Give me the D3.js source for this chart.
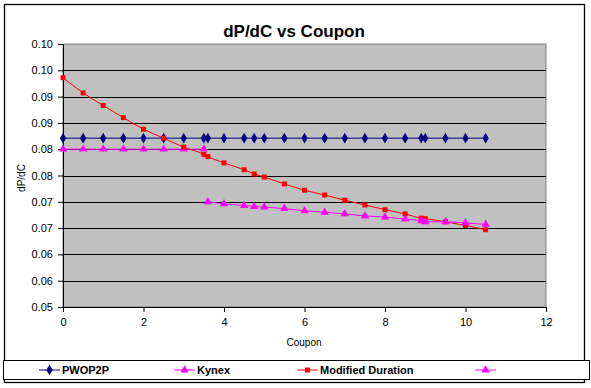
<!DOCTYPE html>
<html>
<head>
<meta charset="utf-8">
<script src="https://cdn.jsdelivr.net/npm/d3@7"></script>
<style>
  body { margin: 0; background: #fff; }
  svg { display: block; font-family: Arial, "Liberation Sans", sans-serif; }
</style>
</head>
<body>
<div id="chart"></div>
<script>
// Data
const coupons = [0, 0.5, 1, 1.5, 2, 2.5, 3, 3.5, 3.6, 4, 4.5, 4.75, 5, 5.5, 6, 6.5, 7, 7.5, 8, 8.5, 8.9, 9, 9.5, 10, 10.5];
const pwop2p = [0.0821, 0.0821, 0.0821, 0.0821, 0.0821, 0.0821, 0.0821, 0.0821, 0.0821, 0.0821, 0.0821, 0.0821, 0.0821,
    0.0821, 0.0821, 0.0821, 0.0821, 0.0821, 0.0821, 0.0821, 0.0821, 0.0821, 0.0821, 0.0821, 0.0821];
const modDuration = [0.0936, 0.0907, 0.0883, 0.0860, 0.0838, 0.0821, 0.0804, 0.0790, 0.0786, 0.0774, 0.0761, 0.0753, 0.0747,
    0.0734, 0.0722, 0.0713, 0.0703, 0.0694, 0.0685, 0.0677, 0.0669, 0.0668, 0.0662, 0.0655, 0.0647];

const kynexCoupons = [0, 0.5, 1, 1.5, 2, 2.5, 3, 3.5];
const kynex = [0.0800, 0.0800, 0.0800, 0.0800, 0.0800, 0.0800, 0.0800, 0.0800];

const series4Coupons = [3.6, 4, 4.5, 4.75, 5, 5.5, 6, 6.5, 7, 7.5, 8, 8.5, 8.9, 9, 9.5, 10, 10.5];
const series4 = [0.0700, 0.0696, 0.0693, 0.0691, 0.0690, 0.0687, 0.0683, 0.0680, 0.0677, 0.0673, 0.0671, 0.0667,
    0.0664, 0.0662, 0.0662, 0.0660, 0.0657];

const yTicks = [0.05, 0.055, 0.06, 0.065, 0.07, 0.075, 0.08, 0.085, 0.09, 0.095, 0.10];
const yTickLabels = ["0.05", "0.06", "0.06", "0.07", "0.07", "0.08", "0.08", "0.09", "0.09", "0.10", "0.10"];
const xTicks = [0, 2, 4, 6, 8, 10, 12];

const seriesNames = ["PWOP2P", "Kynex", "Modified Duration", ""];

// Dimensions
const W = 591, H = 388;
const plot = {left: 63, right: 546, top: 44, bottom: 307};

const xScale = d3.scaleLinear().domain([0, 12]).range([plot.left, plot.right]);
const yScale = d3.scaleLinear().domain([0.05, 0.10]).range([plot.bottom, plot.top]);

const svg = d3.select("#chart").append("svg")
    .attr("width", W)
    .attr("height", H);

// Chart outline
svg.append("rect")
    .attr("x", 4.5).attr("y", 4.5)
    .attr("width", 580).attr("height", 378)
    .attr("fill", "#fff")
    .attr("stroke", "#000")
    .attr("stroke-width", 1.3);

// Plot area
svg.append("rect")
    .attr("x", plot.left).attr("y", plot.top)
    .attr("width", plot.right - plot.left).attr("height", plot.bottom - plot.top)
    .attr("fill", "#c0c0c0")
    .attr("stroke", "#808080")
    .attr("stroke-width", 1);

// Gridlines
svg.append("g")
    .selectAll("line")
    .data(yTicks.slice(1, -1))
    .enter().append("line")
    .attr("x1", plot.left).attr("x2", plot.right)
    .attr("y1", d => Math.round(yScale(d)) + 0.5)
    .attr("y2", d => Math.round(yScale(d)) + 0.5)
    .attr("stroke", "#000")
    .attr("stroke-width", 1);

// Axes
const yAxis = svg.append("g")
    .attr("transform", "translate(" + plot.left + ",0)")
    .call(d3.axisLeft(yScale)
        .tickValues(yTicks)
        .tickFormat((d, i) => yTickLabels[i])
        .tickSize(5)
        .tickSizeOuter(0)
        .tickPadding(5));

const xAxis = svg.append("g")
    .attr("transform", "translate(0," + plot.bottom + ")")
    .call(d3.axisBottom(xScale)
        .tickValues(xTicks)
        .tickSize(5)
        .tickSizeOuter(0)
        .tickPadding(6));

[yAxis, xAxis].forEach(function (g) {
    g.selectAll("path, line").attr("stroke", "#000").attr("stroke-width", 1);
    g.selectAll("text").attr("fill", "#000").style("font-size", "11px")
        .style("font-family", "Arial, 'Liberation Sans', sans-serif");
});

// Titles
svg.append("text")
    .attr("x", 294).attr("y", 37)
    .attr("text-anchor", "middle")
    .style("font-size", "17px")
    .style("font-weight", "bold")
    .text("dP/dC vs Coupon");

svg.append("text")
    .attr("x", 304).attr("y", 346)
    .attr("text-anchor", "middle")
    .style("font-size", "10px")
    .text("Coupon");

svg.append("text")
    .attr("transform", "translate(25,178) rotate(-90)")
    .attr("text-anchor", "middle")
    .style("font-size", "10px")
    .text("dP/dC");

// Series
const series = [
    {name: seriesNames[0], xs: coupons, ys: pwop2p, color: "#000080", symbol: d3.symbolDiamond, size: 34, curve: d3.curveLinear},
    {name: seriesNames[1], xs: kynexCoupons, ys: kynex, color: "#ff00ff", symbol: d3.symbolTriangle, size: 30, curve: d3.curveLinear},
    {name: seriesNames[2], xs: coupons, ys: modDuration, color: "#ff0000", symbol: d3.symbolSquare, size: 25, curve: d3.curveMonotoneX},
    {name: seriesNames[3], xs: series4Coupons, ys: series4, color: "#ff00ff", symbol: d3.symbolTriangle, size: 30, curve: d3.curveMonotoneX}
];

const line = d3.line();

series.forEach(function (s) {
    const pts = s.xs.map((x, i) => [xScale(x), yScale(s.ys[i])]);
    svg.append("path")
        .attr("d", line.curve(s.curve)(pts))
        .attr("fill", "none")
        .attr("stroke", s.color)
        .attr("stroke-width", 1);
    svg.append("g")
        .selectAll("path")
        .data(pts)
        .enter().append("path")
        .attr("transform", d => "translate(" + d[0] + "," + d[1] + ")")
        .attr("d", d3.symbol().type(s.symbol).size(s.size))
        .attr("fill", s.color);
});

// Legend
svg.append("rect")
    .attr("x", 3.5).attr("y", 360.5)
    .attr("width", 586).attr("height", 19)
    .attr("fill", "#fff")
    .attr("stroke", "#000")
    .attr("stroke-width", 1);

const legendX = [39, 174, 297, 475];
const legend = svg.append("g")
    .selectAll("g")
    .data(series)
    .enter().append("g")
    .attr("transform", (d, i) => "translate(" + legendX[i] + ",370)");

legend.append("line")
    .attr("x1", 0).attr("x2", 21)
    .attr("stroke", d => d.color)
    .attr("stroke-width", 1);

legend.append("path")
    .attr("transform", "translate(10.5,0)")
    .attr("d", d => d3.symbol().type(d.symbol).size(d.size)())
    .attr("fill", d => d.color);

legend.append("text")
    .attr("x", 23).attr("y", 4)
    .style("font-size", "11px")
    .style("font-weight", "bold")
    .text(d => d.name);
</script>
</body>
</html>
